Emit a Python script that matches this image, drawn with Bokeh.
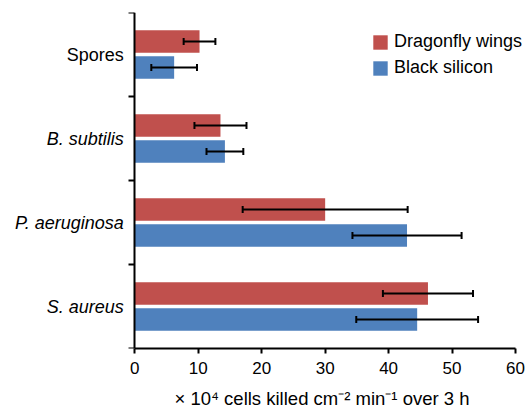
import pandas as pd
from bokeh.plotting import figure
from bokeh.models import (ColumnDataSource, Whisker, TeeHead, FixedTicker,
                          Range1d, Title)
from bokeh.core.properties import value, field
from bokeh.transform import dodge
from bokeh.embed import file_html
from bokeh.resources import INLINE

# ---- data (bottom to top) ----
categories = ["S. aureus", "P. aeruginosa", "B. subtilis", "Spores"]
label_styles = ["italic", "italic", "italic", "normal"]
dragonfly = [46.2, 30.0, 13.5, 10.2]
dragonfly_err = [7.1, 13.0, 4.1, 2.5]
silicon = [44.5, 42.9, 14.2, 6.2]
silicon_err = [9.6, 8.6, 2.9, 3.6]
series_names = ["Dragonfly wings", "Black silicon"]
x_ticks = [0, 10, 20, 30, 40, 50, 60]
x_title = "\u00d7 10\u2074 cells killed cm\u207b\u00b2 min\u207b\u00b9 over 3 h"

RED = "#c0504d"
BLUE = "#4f81bd"
FONT = "Liberation Sans"

df = pd.DataFrame(dict(category=categories, fstyle=label_styles,
                       d=dragonfly, d_err=dragonfly_err,
                       s=silicon, s_err=silicon_err))
df["pos"] = [i + 0.5 for i in range(len(df))]
df["d_lo"] = df["d"] - df["d_err"]
df["d_hi"] = df["d"] + df["d_err"]
df["s_lo"] = df["s"] - df["s_err"]
df["s_hi"] = df["s"] + df["s_err"]
src = ColumnDataSource(df)

# x range extends beyond 0..60 so the category names and legend are not clipped
p = figure(width=526, height=410, output_backend="svg", toolbar_location=None,
           x_range=Range1d(-19.59, 61.73), y_range=Range1d(0, len(categories)),
           min_border_left=10, min_border_right=0, min_border_top=12,
           min_border_bottom=62)
p.outline_line_color = None
p.grid.visible = False

off = 0.155
bh = 0.27
p.hbar(y=dodge("pos", off, range=p.y_range), left=0, right="d", height=bh,
       fill_color=RED, line_color=None, source=src, legend_label=series_names[0])
p.hbar(y=dodge("pos", -off, range=p.y_range), left=0, right="s", height=bh,
       fill_color=BLUE, line_color=None, source=src, legend_label=series_names[1])

for base, lo, hi in [(dodge("pos", off, range=p.y_range), "d_lo", "d_hi"),
                     (dodge("pos", -off, range=p.y_range), "s_lo", "s_hi")]:
    w = Whisker(base=base, lower=lo, upper=hi, dimension="width", source=src,
                line_color="black", line_width=2, level="overlay",
                upper_head=TeeHead(size=7, line_width=2, line_color="black"),
                lower_head=TeeHead(size=7, line_width=2, line_color="black"))
    p.add_layout(w)

# category names
p.text(x=0, y="pos", text="category", source=src, x_offset=-11,
       text_align="right", text_baseline="middle",
       text_font=value(FONT), text_font_size=value("18px"),
       text_font_style=field("fstyle"), text_color="black")

# y axis at x = 0, ticks only at category boundaries
ya = p.yaxis[0]
ya.fixed_location = 0
ya.ticker = FixedTicker(ticks=[], minor_ticks=list(range(len(categories) + 1)))
ya.axis_line_width = 2
ya.axis_line_color = "black"
ya.minor_tick_line_width = 2
ya.minor_tick_line_color = "black"
ya.minor_tick_out = 6
ya.minor_tick_in = 0
ya.major_tick_out = 0
ya.major_tick_in = 0
ya.major_label_standoff = 0

xa = p.xaxis[0]
xa.bounds = (0, 60)
xa.ticker = FixedTicker(ticks=x_ticks, minor_ticks=[])
xa.axis_line_width = 2
xa.axis_line_color = "black"
xa.major_tick_line_width = 2
xa.major_tick_line_color = "black"
xa.major_tick_out = 5
xa.major_tick_in = 0
xa.minor_tick_out = 0
xa.minor_tick_in = 0
xa.major_label_standoff = 8
xa.major_label_text_font = FONT
xa.major_label_text_font_size = "17px"
xa.major_label_text_color = "black"

# small gap below the tick labels, then the axis title under the 0..60 span
p.add_layout(Title(text=" ", standoff=0, text_font=FONT,
                   text_font_size="7px"), "below")
p.add_layout(Title(text=x_title, align="left", offset=164, standoff=0,
                   text_font=FONT, text_font_size="18.5px",
                   text_font_style="normal", text_color="black"), "below")

lg = p.legend[0]
lg.location = (361, 270)
lg.border_line_color = None
lg.background_fill_alpha = 0
lg.padding = 0
lg.margin = 0
lg.spacing = 5
lg.glyph_width = 18
lg.glyph_height = 18
lg.label_standoff = 5
lg.label_text_font = FONT
lg.label_text_font_size = "18px"
lg.label_text_color = "black"

open("out.html", "w").write(file_html(p, INLINE))
